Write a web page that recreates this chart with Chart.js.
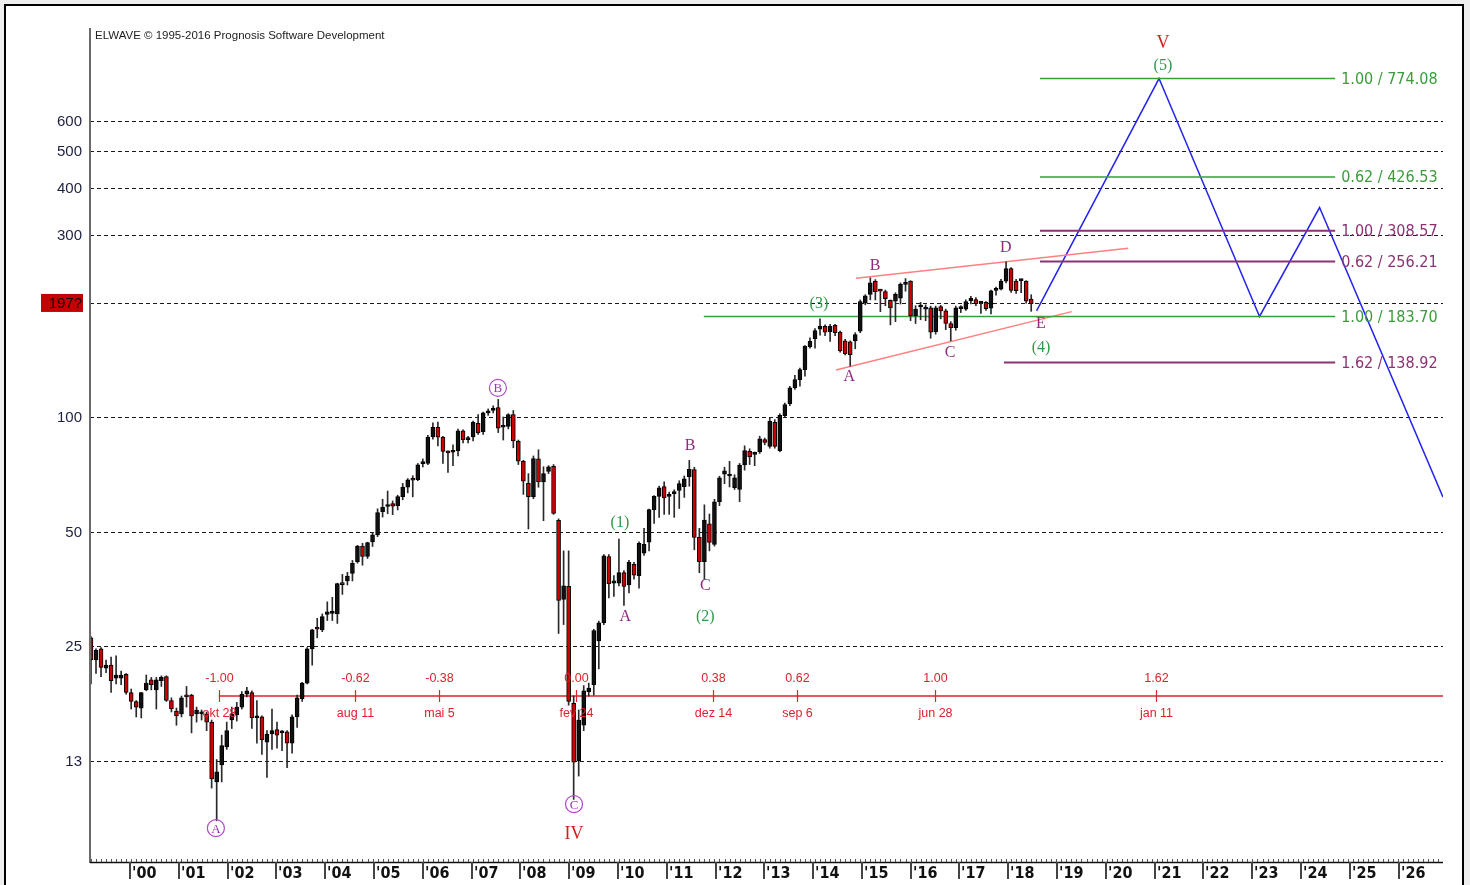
<!DOCTYPE html>
<html>
<head>
<meta charset="utf-8">
<title>ELWAVE</title>
<script src="https://cdn.jsdelivr.net/npm/chart.js@4.4.1/dist/chart.umd.min.js"></script>
<style>
  html, body { margin: 0; padding: 0; background: #fff; }
  #wrap { position: relative; width: 1470px; height: 885px; }
</style>
</head>
<body>
<div id="wrap"><canvas id="elwave" width="1470" height="885"></canvas></div>
<script>
// candles (one bar about every 0.103 year, first bar early 1999)
const barStart = 1999.20;
const barStep = 0.10305;

const opens = [
  26.3, 23.0, 24.6, 21.9, 22.3, 20.6, 20.6, 21.1, 18.9, 17.9,
  17.2, 19.2, 20.4, 19.2, 20.3, 20.8, 18.0, 16.9, 16.6, 18.6,
  18.6, 16.6, 16.6, 16.6, 15.8, 11.0, 12.2, 13.6, 16.0, 16.5,
  17.3, 18.7, 18.9, 16.2, 16.3, 14.0, 14.7, 15.1, 14.8, 14.9,
  13.9, 16.3, 18.2, 20.0, 24.6, 27.9, 27.6, 30.3, 30.5, 30.4,
  36.5, 37.1, 38.8, 41.7, 45.8, 43.0, 47.0, 49.0, 56.4, 58.2,
  59.2, 58.5, 61.8, 65.4, 68.7, 68.4, 75.4,
  75.5, 88.7, 94.0, 88.5, 81.0, 80.8, 81.5, 92.0, 87.2, 88.6,
  96.2, 91.5, 102.5, 104.0, 105.8, 94.0, 94.5, 101.5, 86.5, 76.5,
  67.0, 61.8, 77.6, 67.5, 72.0, 74.2,
  53.5, 33.2, 35.9, 17.7, 12.5, 15.5, 19.0, 19.8, 25.8, 28.8,
  43.0, 36.6, 36.6, 39.0, 36.2, 41.0, 38.3, 43.9, 46.9, 57.1,
  61.9, 65.6, 61.9, 62.9, 64.1, 65.6, 69.7, 72.8, 48.3, 41.7,
  52.4, 46.3, 59.9, 70.8, 70.0, 65.2, 64.5, 74.8, 81.3, 79.8,
  81.0, 87.2, 83.7, 96.8, 81.6, 100.8, 108.4, 119.2, 125.4, 133.2,
  153.0, 160.5, 170.0, 173.0, 167.5, 174.0, 167.0, 158.5, 157.5, 158.5,
  168.0, 199.0, 210.0, 227.0, 215.0, 213.5, 202.5, 201.5, 205.0, 223.0,
  227.5, 184.5, 194.5, 192.0, 193.5, 167.5, 195.0, 190.0, 176.0, 171.5,
  192.5, 192.0, 202.0, 203.5, 199.0, 200.0, 193.0, 215.0, 216.5, 227.5,
  245.5, 227.5, 228.0, 227.5, 204.0
];
const highs = [
  26.5, 24.6, 24.8, 23.0, 23.4, 23.6, 21.5, 21.2, 19.3, 18.0,
  18.9, 21.0, 20.7, 20.7, 20.9, 20.9, 18.3, 17.2, 18.5, 19.6,
  18.7, 17.3, 17.0, 16.8, 16.0, 12.6, 14.6, 15.8, 17.3, 17.8,
  19.0, 19.5, 19.1, 18.0, 16.4, 15.0, 17.1, 15.8, 15.0, 15.0,
  16.5, 18.6, 20.1, 24.8, 27.7, 29.6, 30.4, 32.7, 33.6, 36.6,
  38.6, 39.1, 42.0, 46.0, 46.6, 46.9, 49.6, 57.4, 60.8, 63.9,
  60.2, 62.3, 66.9, 68.9, 70.1, 75.5, 77.6,
  89.5, 96.5, 97.0, 89.0, 81.5, 84.5, 93.0, 92.5, 89.0, 97.5,
  101.5, 103.0, 105.0, 107.0, 111.2, 100.0, 102.0, 104.0, 87.0, 77.0,
  71.0, 79.0, 82.0, 74.0, 74.5, 75.0,
  54.0, 44.5, 44.5, 18.5, 17.0, 19.7, 20.0, 27.7, 29.1, 43.5,
  43.5, 38.3, 47.8, 39.5, 42.0, 41.5, 47.0, 51.0, 57.3, 62.2,
  65.8, 67.6, 63.5, 64.4, 68.0, 70.0, 76.9, 73.8, 51.0, 58.8,
  55.6, 60.8, 69.9, 73.8, 76.5, 70.5, 75.5, 84.0, 82.5, 80.9,
  89.0, 88.0, 99.2, 98.4, 102.0, 108.8, 120.4, 128.6, 134.5, 154.0,
  161.5, 170.8, 181.0, 174.5, 175.0, 175.0, 168.0, 160.0, 158.5, 166.5,
  203.0, 209.5, 232.0, 229.5, 216.5, 215.5, 203.0, 212.0, 225.0, 231.0,
  228.0, 196.0, 200.0, 197.0, 195.5, 195.5, 196.5, 192.0, 178.0, 195.5,
  196.0, 203.0, 207.5, 206.0, 201.0, 201.0, 215.5, 219.5, 230.0, 255.5,
  247.0, 230.0, 230.0, 228.0, 209.5
];
const lows = [
  19.9, 21.2, 20.8, 21.3, 18.9, 19.9, 19.8, 18.7, 17.1, 16.3,
  16.2, 19.1, 19.2, 17.1, 19.6, 17.9, 16.8, 15.5, 16.3, 17.3,
  14.8, 15.8, 16.0, 15.0, 10.6, 8.7, 11.0, 13.4, 15.2, 15.9,
  17.1, 18.4, 15.2, 13.9, 13.0, 11.3, 13.4, 13.5, 13.3, 12.0,
  13.1, 15.3, 17.9, 19.9, 22.3, 26.3, 27.3, 29.2, 29.2, 28.7,
  34.2, 36.2, 37.1, 41.3, 40.8, 42.5, 45.7, 48.5, 54.6, 55.7,
  55.4, 57.0, 60.6, 63.2, 61.7, 68.0, 73.9,
  75.0, 87.5, 84.0, 75.5, 71.5, 74.5, 79.0, 85.5, 85.5, 86.5,
  90.0, 90.0, 101.0, 102.5, 91.0, 87.0, 93.0, 83.0, 75.0, 62.6,
  50.8, 61.0, 65.4, 53.4, 71.0, 55.5,
  27.0, 28.5, 17.5, 9.9, 11.4, 15.0, 18.5, 18.6, 21.8, 28.5,
  33.5, 33.8, 36.0, 32.0, 34.5, 37.5, 35.5, 43.3, 44.5, 52.5,
  54.5, 55.5, 55.5, 54.5, 57.5, 61.5, 65.8, 44.8, 39.0, 37.5,
  44.5, 45.8, 58.5, 66.8, 65.5, 64.5, 59.9, 72.5, 75.0, 74.5,
  80.2, 84.5, 82.8, 82.8, 81.0, 100.0, 107.0, 118.2, 120.4, 128.0,
  151.5, 151.5, 164.0, 163.5, 158.0, 163.5, 148.0, 145.5, 136.0, 151.0,
  166.5, 197.0, 203.0, 203.0, 189.0, 196.0, 174.5, 178.0, 198.0, 214.0,
  179.0, 176.0, 180.0, 179.0, 161.0, 165.0, 181.0, 169.5, 158.5, 169.0,
  188.0, 190.5, 198.0, 196.0, 187.0, 190.5, 186.5, 209.0, 215.5, 225.0,
  212.5, 211.0, 212.0, 199.0, 189.5
];
const closes = [
  23.0, 24.4, 22.0, 22.3, 20.3, 21.0, 21.0, 18.9, 17.9, 17.3,
  18.9, 20.0, 19.8, 20.4, 20.7, 18.0, 17.1, 16.4, 18.3, 18.4,
  16.4, 17.0, 16.8, 15.8, 11.2, 11.7, 13.7, 15.0, 16.6, 17.3,
  18.7, 19.1, 16.2, 16.4, 14.2, 14.7, 15.0, 14.6, 14.9, 13.9,
  16.3, 18.3, 20.0, 24.6, 27.6, 27.7, 29.9, 30.8, 30.8, 36.5,
  36.3, 38.2, 41.3, 45.8, 43.0, 46.8, 49.0, 56.1, 57.9, 58.8,
  58.3, 61.8, 65.4, 68.4, 68.2, 74.9, 76.2,
  88.5, 94.0, 88.5, 81.2, 80.5, 81.5, 92.0, 87.2, 88.0, 96.8,
  90.8, 102.5, 103.5, 105.5, 93.5, 94.5, 101.5, 86.5, 76.5, 67.8,
  61.8, 77.8, 67.5, 71.0, 74.0, 55.8,
  33.0, 36.0, 17.9, 12.4, 16.0, 19.1, 19.4, 27.5, 28.8, 43.2,
  36.5, 37.1, 39.0, 35.9, 41.6, 38.4, 46.6, 46.3, 57.1, 61.9,
  65.2, 61.3, 62.5, 63.5, 66.8, 68.8, 72.9, 48.3, 41.7, 53.6,
  46.8, 59.9, 69.2, 72.2, 70.5, 69.2, 74.8, 81.6, 78.6, 80.8,
  87.6, 85.8, 97.4, 83.7, 101.0, 107.8, 119.2, 125.4, 133.2, 153.5,
  158.0, 168.5, 173.2, 167.0, 173.0, 166.5, 149.0, 146.5, 145.7, 164.5,
  201.0, 208.0, 225.0, 213.5, 214.0, 204.5, 193.5, 210.0, 223.0, 224.5,
  184.5, 192.0, 196.0, 193.5, 167.0, 193.5, 190.0, 176.0, 171.5, 193.5,
  193.5, 201.0, 205.0, 198.5, 200.0, 192.5, 214.5, 216.5, 227.5, 245.5,
  215.0, 214.5, 229.0, 201.5, 198.5
];

// axes
const xMin = 1999.18, xMax = 2026.91;
const yMin = 6.78, yMax = 1051;
const gridValues = [12.5, 25, 50, 100, 199.3, 300, 400, 500, 600];
const gridLabels = ['13', '25', '50', '100', '197?', '300', '400', '500', '600'];
const lastPriceLabel = '197?';
const yearTicks = [2000, 2001, 2002, 2003, 2004, 2005, 2006, 2007, 2008, 2009, 2010, 2011, 2012, 2013,
  2014, 2015, 2016, 2017, 2018, 2019, 2020, 2021, 2022, 2023, 2024, 2025, 2026];
const yearLabels = ["'00", "'01", "'02", "'03", "'04", "'05", "'06", "'07", "'08", "'09", "'10", "'11", "'12", "'13",
  "'14", "'15", "'16", "'17", "'18", "'19", "'20", "'21", "'22", "'23", "'24", "'25", "'26"];

// projected path (blue)
const projDates = [2018.58, 2021.09, 2023.15, 2024.38, 2026.91];
const projValues = [190, 774.08, 183.70, 354.8, 61.6];

// triangle lines
const triUpperDates = [2014.88, 2020.46];
const triUpperValues = [231.5, 277.6];
const triLowerDates = [2014.47, 2019.30];
const triLowerValues = [132.9, 189.1];

// price targets
const targetValues = [774.08, 426.53, 308.57, 256.21, 183.70, 138.92];
const targetRatios = ['1.00', '0.62', '1.00', '0.62', '1.00', '1.62'];
const targetStarts = [2018.65, 2018.65, 2018.65, 2018.65, 2011.76, 2017.91];
const targetEnd = 2024.70;
const targetKinds = ['green', 'green', 'purple', 'purple', 'green', 'purple'];

// time targets (red)
const fibRatios = ['-1.00', '-0.62', '-0.38', '0.00', '0.38', '0.62', '1.00', '1.62'];
const fibDates = [2001.82, 2004.61, 2006.34, 2009.15, 2011.95, 2013.68, 2016.49, 2021.03];
const fibDateLabels = ['okt 28', 'aug 11', 'mai 5', 'fev 24', 'dez 14', 'sep 6', 'jun 28', 'jan 11'];
const fibLevel = 18.5;

// wave labels
const waveTexts = ['A', 'B', 'C', 'IV', '(1)', 'A', 'B', 'C', '(2)', '(3)', 'A', 'B', 'C', 'D', 'E', '(4)', '(5)', 'V'];
const waveDates = [2001.76, 2007.54, 2009.10, 2009.10, 2010.04, 2010.15, 2011.48, 2011.79, 2011.79,
  2014.12, 2014.74, 2015.27, 2016.81, 2017.95, 2018.67, 2018.67, 2021.17, 2021.17];
const waveValues = [8.32, 119.2, 9.62, 8.02, 52.6, 29.8, 83.9, 35.96, 29.8,
  198.2, 127.4, 249.5, 147.3, 277.6, 175.6, 151.5, 836.6, 961];
const waveDegrees = ['circle', 'circle', 'circle', 'cycle', 'inter', 'minor', 'minor', 'minor', 'inter',
  'inter', 'minor', 'minor', 'minor', 'minor', 'minor', 'inter', 'inter', 'cycle'];

const GREEN = '#3a9c3a', PURPLE = '#8c3274', RED = '#e0202c', BLUE = '#2424ee', PINK = '#ff8080';
const NARROW = '"Liberation Sans Narrow", "DejaVu Sans Condensed", "Liberation Sans", Arial, sans-serif';
const SANS = '"Liberation Sans", Arial, sans-serif';
const SERIF = '"Liberation Serif", "Times New Roman", serif';

// build candle data
let bodies = [], wicks = [], bodyColors = [];
for (let i = 0; i < closes.length; i++) {
  let t = barStart + i * barStep;
  bodies.push({x: t, y: [opens[i], closes[i]]});
  wicks.push({x: t, y: [lows[i], highs[i]]});
  bodyColors.push(closes[i] >= opens[i] ? '#101010' : '#cc0000');
}

function lineSet(xs, ys, color, width) {
  return {
    type: 'line',
    data: xs.map((x, i) => ({x: x, y: ys[i]})),
    borderColor: color,
    borderWidth: width,
    pointRadius: 0,
    fill: false,
    tension: 0,
    order: 5
  };
}

let datasets = [
  {type: 'bar', data: bodies, backgroundColor: bodyColors, borderColor: '#000', borderWidth: 1,
   borderSkipped: false, barThickness: 4, minBarLength: 2, grouped: false, order: 0},
  {type: 'bar', data: wicks, backgroundColor: '#2a2a2a', borderWidth: 0,
   barThickness: 1, grouped: false, order: 1}
];
for (let i = 0; i < targetValues.length; i++) {
  datasets.push(lineSet([targetStarts[i], targetEnd], [targetValues[i], targetValues[i]],
    targetKinds[i] === 'green' ? GREEN : PURPLE, targetKinds[i] === 'green' ? 1.5 : 2));
}
datasets.push(lineSet([fibDates[0], xMax], [fibLevel, fibLevel], RED, 1.5));
datasets.push(lineSet(triUpperDates, triUpperValues, PINK, 1.5));
datasets.push(lineSet(triLowerDates, triLowerValues, PINK, 1.5));
datasets.push(lineSet(projDates, projValues, BLUE, 1.5));

// page frame and background
const framePlugin = {
  id: 'framePlugin',
  beforeDraw(chart) {
    const c = chart.ctx;
    c.save();
    c.fillStyle = '#eeeeee';
    c.fillRect(0, 0, chart.width, chart.height);
    c.fillStyle = '#ffffff';
    c.fillRect(6, 6, 1456, chart.height - 6);
    c.strokeStyle = '#000';
    c.lineWidth = 2;
    c.beginPath();
    c.moveTo(5, chart.height);
    c.lineTo(5, 5);
    c.lineTo(1463, 5);
    c.lineTo(1463, chart.height);
    c.stroke();
    c.restore();
  }
};

// dashed price grid + price labels
const gridPlugin = {
  id: 'gridPlugin',
  beforeDatasetsDraw(chart) {
    const c = chart.ctx, a = chart.chartArea, ys = chart.scales.y;
    c.save();
    c.strokeStyle = '#1a1a1a';
    c.lineWidth = 1;
    c.setLineDash([4, 3]);
    gridValues.forEach(v => {
      const py = Math.round(ys.getPixelForValue(v)) + 0.5;
      c.beginPath();
      c.moveTo(a.left, py);
      c.lineTo(a.right, py);
      c.stroke();
    });
    c.setLineDash([]);
    c.font = '15px ' + SANS;
    c.textAlign = 'right';
    c.textBaseline = 'middle';
    gridValues.forEach((v, i) => {
      const py = ys.getPixelForValue(v);
      if (gridLabels[i] === lastPriceLabel) {
        c.fillStyle = '#c40000';
        c.fillRect(41, py - 9, 42, 18);
        c.fillStyle = '#1a0000';
      } else {
        c.fillStyle = '#1c2040';
      }
      c.fillText(gridLabels[i], 82, py + 1);
    });
    c.restore();
  }
};

// axes and all text annotations
const annotPlugin = {
  id: 'annotPlugin',
  afterDatasetsDraw(chart) {
    const c = chart.ctx, a = chart.chartArea, xs = chart.scales.x, ys = chart.scales.y;
    c.save();

    // left axis
    c.strokeStyle = '#6a6a6a';
    c.lineWidth = 2;
    c.beginPath();
    c.moveTo(a.left, a.top);
    c.lineTo(a.left, a.bottom + 1);
    c.stroke();

    // bottom axis
    c.strokeStyle = '#111';
    c.lineWidth = 1.5;
    c.beginPath();
    c.moveTo(a.left, a.bottom + 0.5);
    c.lineTo(a.right, a.bottom + 0.5);
    c.stroke();
    c.lineWidth = 1;
    c.strokeStyle = '#555';
    for (let t = barStart; t < xMax; t += barStep) {
      const px = Math.round(xs.getPixelForValue(t)) + 0.5;
      c.beginPath();
      c.moveTo(px, a.bottom - 3);
      c.lineTo(px, a.bottom);
      c.stroke();
    }
    c.strokeStyle = '#444';
    c.lineWidth = 2;
    c.fillStyle = '#111';
    c.font = 'bold 16px ' + NARROW;
    c.textAlign = 'left';
    c.textBaseline = 'alphabetic';
    yearTicks.forEach((yr, i) => {
      const px = Math.round(xs.getPixelForValue(yr));
      c.beginPath();
      c.moveTo(px, a.bottom);
      c.lineTo(px, a.bottom + 17);
      c.stroke();
      c.fillText(yearLabels[i], px + 2, a.bottom + 16);
    });

    // copyright line
    c.font = '11.5px ' + SANS;
    c.fillStyle = '#222';
    c.fillText('ELWAVE \u00A9 1995-2016 Prognosis Software Development', 95, 39);

    // time targets
    const fy = Math.round(ys.getPixelForValue(fibLevel));
    c.strokeStyle = RED;
    c.lineWidth = 1.2;
    c.fillStyle = RED;
    c.font = '12.5px ' + SANS;
    c.textAlign = 'center';
    c.textBaseline = 'middle';
    fibDates.forEach((d, i) => {
      const px = Math.round(xs.getPixelForValue(d)) + 0.5;
      c.beginPath();
      c.moveTo(px, fy - 6);
      c.lineTo(px, fy + 6);
      c.stroke();
      c.fillText(fibRatios[i], px, fy - 17);
      c.fillText(fibDateLabels[i], px, fy + 18);
    });

    // price target labels
    c.font = '16px ' + NARROW;
    c.textAlign = 'left';
    targetValues.forEach((v, i) => {
      c.fillStyle = targetKinds[i] === 'green' ? GREEN : PURPLE;
      c.fillText(targetRatios[i] + ' / ' + v.toFixed(2), xs.getPixelForValue(targetEnd) + 6, ys.getPixelForValue(v) + 1);
    });

    // wave labels
    c.textAlign = 'center';
    waveTexts.forEach((txt, i) => {
      const px = xs.getPixelForValue(waveDates[i]);
      const py = ys.getPixelForValue(waveValues[i]);
      const deg = waveDegrees[i];
      if (deg === 'circle') {
        c.strokeStyle = '#b048c8';
        c.lineWidth = 1.2;
        c.beginPath();
        c.arc(px, py, 8.5, 0, Math.PI * 2);
        c.stroke();
        c.fillStyle = '#9a38b4';
        c.font = '13px ' + SERIF;
        c.fillText(txt, px, py + 1);
      } else if (deg === 'cycle') {
        c.fillStyle = '#d81c1c';
        c.font = '18px ' + SERIF;
        c.fillText(txt, px, py);
      } else if (deg === 'inter') {
        c.fillStyle = '#2f9a48';
        c.font = '16px ' + SERIF;
        c.fillText(txt, px, py);
      } else {
        c.fillStyle = '#8e2a80';
        c.font = '16px ' + SERIF;
        c.fillText(txt, px, py);
      }
    });
    c.restore();
  }
};

new Chart(document.getElementById('elwave'), {
  type: 'bar',
  data: {datasets: datasets},
  options: {
    responsive: false,
    animation: false,
    devicePixelRatio: 1,
    layout: {padding: {left: 90, right: 27, top: 28, bottom: 23}},
    plugins: {legend: {display: false}, tooltip: {enabled: false}},
    scales: {
      x: {type: 'linear', min: xMin, max: xMax, bounds: 'data', offset: false, display: false},
      y: {type: 'logarithmic', min: yMin, max: yMax, bounds: 'data', display: false}
    }
  },
  plugins: [framePlugin, gridPlugin, annotPlugin]
});
</script>
</body>
</html>
